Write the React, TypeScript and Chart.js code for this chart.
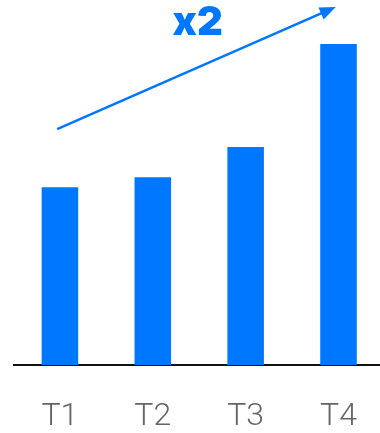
import React, { useEffect, useRef } from "react";
import { Chart, registerables } from "chart.js";

Chart.register(...registerables);

const categories = ["T1", "T2", "T3", "T4"];
const values = [55.4, 58.5, 67.9, 100];
const growthLabel = "x2";
// annotation anchors in data space: [category index, value]
const arrowFrom = [-0.03, 73.5];
const arrowTo = [2.97, 111.5];
const growthLabelAt = [1.484, 106.4];

const BLUE = "#0077FF";

const arrowPlugin = {
  id: "growthArrow",
  afterDraw(chart: any) {
    const { ctx, scales } = chart;
    const xs = scales.x;
    const ys = scales.y;
    const px = (i: number) => {
      const a = xs.getPixelForValue(0);
      const b = xs.getPixelForValue(1);
      return a + (b - a) * i;
    };
    const x1 = px(arrowFrom[0]);
    const y1 = ys.getPixelForValue(arrowFrom[1]);
    const x2 = px(arrowTo[0]);
    const y2 = ys.getPixelForValue(arrowTo[1]);
    const ang = Math.atan2(y2 - y1, x2 - x1);
    const headLen = 16;
    const headHalf = 6.5;
    ctx.save();
    ctx.strokeStyle = BLUE;
    ctx.fillStyle = BLUE;
    ctx.lineWidth = 2.5;
    ctx.beginPath();
    ctx.moveTo(x1, y1);
    ctx.lineTo(x2 - Math.cos(ang) * headLen * 0.8, y2 - Math.sin(ang) * headLen * 0.8);
    ctx.stroke();
    const bx = x2 - Math.cos(ang) * headLen;
    const by = y2 - Math.sin(ang) * headLen;
    ctx.beginPath();
    ctx.moveTo(x2, y2);
    ctx.lineTo(bx - Math.sin(ang) * headHalf, by + Math.cos(ang) * headHalf);
    ctx.lineTo(bx + Math.sin(ang) * headHalf, by - Math.cos(ang) * headHalf);
    ctx.closePath();
    ctx.fill();
    ctx.font = "900 40px Inter, 'Open Sans', sans-serif";
    ctx.textAlign = "center";
    ctx.textBaseline = "middle";
    ctx.fillText(growthLabel, px(growthLabelAt[0]), ys.getPixelForValue(growthLabelAt[1]));
    ctx.restore();
  },
};

export default function App() {
  const ref = useRef<HTMLCanvasElement>(null);
  useEffect(() => {
    if (!ref.current) return;
    const chart = new Chart(ref.current, {
      type: "bar",
      data: {
        labels: categories,
        datasets: [
          {
            data: values,
            backgroundColor: BLUE,
            borderWidth: 0,
            categoryPercentage: 1,
            barPercentage: 37 / 94,
          },
        ],
      },
      options: {
        animation: false,
        responsive: true,
        maintainAspectRatio: false,
        layout: { padding: { left: 13.5, right: 0.5, top: 44, bottom: 0 } },
        plugins: { legend: { display: false }, tooltip: { enabled: false } },
        scales: {
          x: {
            grid: { display: false, drawTicks: false },
            border: { display: true, color: "#111111", width: 2 },
            afterFit: (scale: any) => {
              scale.height = 68;
            },
            ticks: {
              padding: 33,
              color: "#666666",
              font: { family: "Roboto, Inter, sans-serif", size: 32, weight: "300", lineHeight: 1.2 },
            },
          },
          y: { display: false, min: 0, max: 100 },
        },
      },
      plugins: [arrowPlugin],
    });
    return () => chart.destroy();
  }, []);
  return (
    <div style={{ position: "fixed", left: 0, top: 0, width: 380, height: 433, overflow: "hidden", background: "#fff" }}>
      <div style={{ position: "absolute", left: 0, top: 0, width: 390, height: 433 }}>
        <canvas ref={ref} />
      </div>
    </div>
  );
}
